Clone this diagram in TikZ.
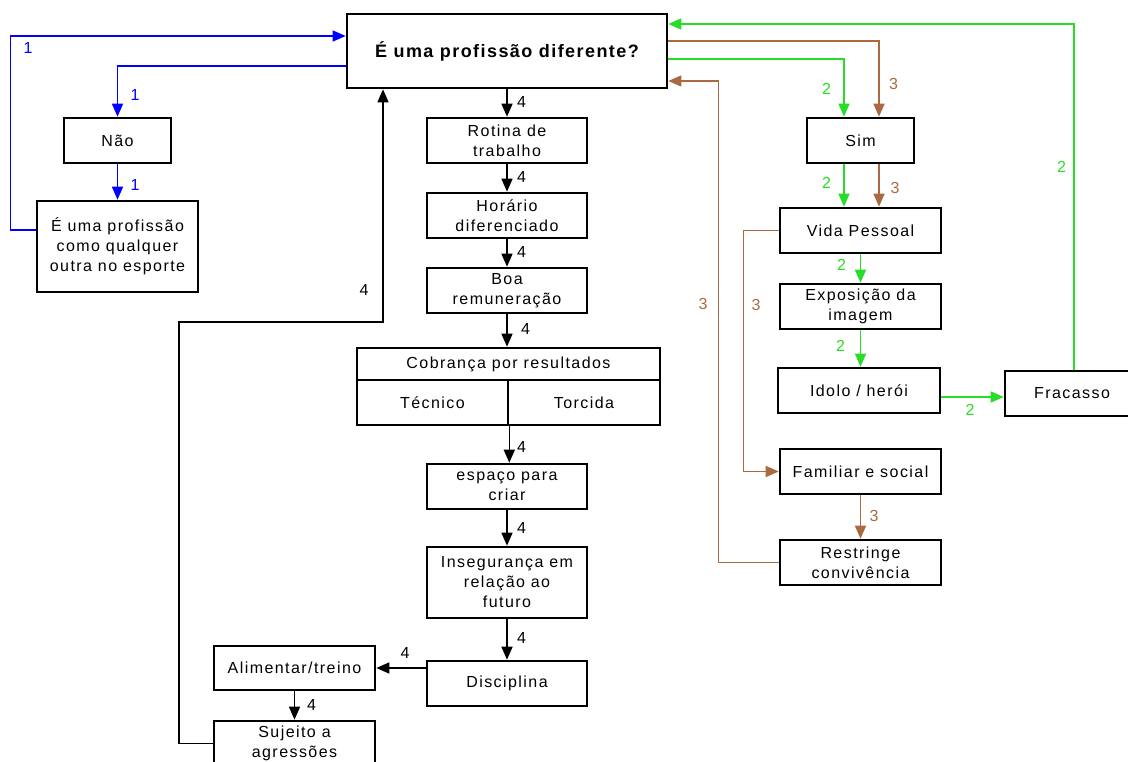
\documentclass[tikz,border=0pt]{standalone}
\usepackage{fontspec}
\setmainfont{Liberation Sans}[LetterSpace=9]
\newfontfamily\titlefont{Liberation Sans}[LetterSpace=8]
\usetikzlibrary{arrows.meta}
\definecolor{linkblue}{RGB}{0,0,255}
\definecolor{linkgreen}{RGB}{40,220,40}
\definecolor{linkbrown}{RGB}{170,105,65}
\begin{document}
\begin{tikzpicture}[x=1pt,y=-1pt,
  font=\fontsize{16}{20}\selectfont,
  box/.style={draw,line width=2.6pt,rectangle,inner sep=0pt,align=center},
  link/.style={line width=1.5pt,-{Triangle[length=13pt,width=11pt]}},
  num/.style={inner sep=0pt},
]
\useasboundingbox (0,0) rectangle (1128,762);
\clip (0,0) rectangle (1128,762);

% central question
\node[box,minimum width=320pt,minimum height=74pt] (main) at (507,51)
  {\titlefont\fontsize{18}{20}\selectfont\bfseries É uma profissão diferente?};

% answer "no"
\node[box,minimum width=107pt,minimum height=45pt] (no) at (117.5,140.5) {Não};
\node[box,minimum width=161pt,minimum height=91pt] (other) at (117.5,246.5)
  {É uma profissão\\como qualquer\\outra no esporte};

% central chain
\node[box,minimum width=160pt,minimum height=45pt] (rot) at (507,140.5) {Rotina de\\trabalho};
\node[box,minimum width=160pt,minimum height=45pt] (hor) at (507,215.5) {Horário\\diferenciado};
\node[box,minimum width=160pt,minimum height=45pt] (boa) at (507,290.5) {Boa\\remuneração};
\node[box,minimum width=303pt,minimum height=32pt] (cobt) at (508.5,364) {Cobrança por resultados};
\node[box,minimum width=151pt,minimum height=45pt] (tec) at (432.5,402.5) {Técnico};
\node[box,minimum width=152pt,minimum height=45pt] (tor) at (584,402.5) {Torcida};
\node[box,minimum width=160pt,minimum height=45pt] (esp) at (507,486.5) {espaço para\\criar};
\node[box,minimum width=160pt,minimum height=71pt] (ins) at (507,582.5) {Insegurança em\\relação ao\\futuro};
\node[box,minimum width=160pt,minimum height=45pt] (dis) at (507,683.5) {Disciplina};
\node[box,minimum width=161pt,minimum height=44pt] (ali) at (294.5,668) {Alimentar/treino};
\node[box,minimum width=161pt,minimum height=45pt] (suj) at (294.5,743.5) {Sujeito a\\agressões};

% answer "yes"
\node[box,minimum width=107pt,minimum height=45pt] (sim) at (860.5,140.5) {Sim};
\node[box,minimum width=161pt,minimum height=45pt] (vida) at (860.5,230.5) {Vida Pessoal};
\node[box,minimum width=161pt,minimum height=45pt] (expo) at (860.5,306.5) {Exposição da\\imagem};
\node[box,minimum width=162pt,minimum height=45pt] (idolo) at (859,390.5) {Idolo / herói};
\node[box,minimum width=134pt,minimum height=45pt] (fra) at (1072,393.5) {Fracasso};
\node[box,minimum width=161pt,minimum height=45pt] (fam) at (860.5,471.5) {Familiar e social};
\node[box,minimum width=161pt,minimum height=45pt] (res) at (860.5,562.5) {Restringe\\convivência};

% path 1 (blue)
\begin{scope}[linkblue]
  \draw[link] ([yshift=-15pt]main.west) -| (no.north);
  \draw[link] (no) -- (other);
  \draw[link] ([yshift=16.5pt]other.west) -- ++(-25pt,0) |- ([yshift=15pt]main.west);
  \node[num] (b1) at (28,48) {1};
  \node[num] (b2) at (135,95) {1};
  \node[num] (b3) at (135,185) {1};
\end{scope}

% path 4 (black)
\draw[link] (main) -- (rot);
\draw[link] (rot) -- (hor);
\draw[link] (hor) -- (boa);
\draw[link] (boa.south) -- (boa.south |- cobt.north);
\draw[link] (tec.south east) -- (tec.south east |- esp.north);
\draw[link] (esp) -- (ins);
\draw[link] (ins) -- (dis);
\draw[link] (dis.west |- ali.east) -- (ali.east);
\draw[link] (ali) -- (suj);
\draw[link] (suj.west) -| (179,322) -| ([xshift=-124pt]main.south);
\node[num] (k1) at (521.5,101.5) {4};
\node[num] (k2) at (521.5,177) {4};
\node[num] (k3) at (521.5,252) {4};
\node[num] (k4) at (525.5,329) {4};
\node[num] (k5) at (521.5,446.5) {4};
\node[num] (k6) at (521.5,528) {4};
\node[num] (k7) at (521.5,637.5) {4};
\node[num] (k8) at (405,652.5) {4};
\node[num] (k9) at (311.5,705) {4};
\node[num] (k10) at (364,290) {4};

% path 2 (green)
\begin{scope}[linkgreen]
  \coordinate (g1) at ([xshift=-16.5pt]sim.south);
  \coordinate (g2) at ([yshift=-6.5pt]idolo.east);
  \draw[link] ([yshift=-8pt]main.east) -| ([xshift=-16.5pt]sim.north);
  \draw[link] (g1) -- (g1 |- vida.north);
  \draw[link] (vida.south) -- (vida.south |- expo.north);
  \draw[link] (expo.south) -- (expo.south |- idolo.north);
  \draw[link] (g2) -- (g2 -| fra.west);
  \draw[link] ([xshift=2pt]fra.north) |- ([yshift=27pt]main.east);
  \node[num] (n1) at (826.5,89) {2};
  \node[num] (n2) at (826.5,183) {2};
  \node[num] (n3) at (841.5,265) {2};
  \node[num] (n4) at (840.5,345.5) {2};
  \node[num] (n5) at (970,410) {2};
  \node[num] (n6) at (1061.5,167) {2};
\end{scope}

% path 3 (brown)
\begin{scope}[linkbrown]
  \coordinate (r1) at ([xshift=18.5pt]sim.south);
  \draw[link] ([yshift=10pt]main.east) -| ([xshift=18.5pt]sim.north);
  \draw[link] (r1) -- (r1 |- vida.north);
  \draw[link] (vida.west) -- ++(-35pt,0) |- (fam.west);
  \draw[link] (fam) -- (res);
  \draw[link] (res.west) -- ++(-60pt,0) |- ([yshift=-30pt]main.east);
  \node[num] (m1) at (893.5,84) {3};
  \node[num] (m2) at (895,187.5) {3};
  \node[num] (m3) at (703,304) {3};
  \node[num] (m4) at (756,305) {3};
  \node[num] (m5) at (874,516) {3};
\end{scope}
\end{tikzpicture}
\end{document}
